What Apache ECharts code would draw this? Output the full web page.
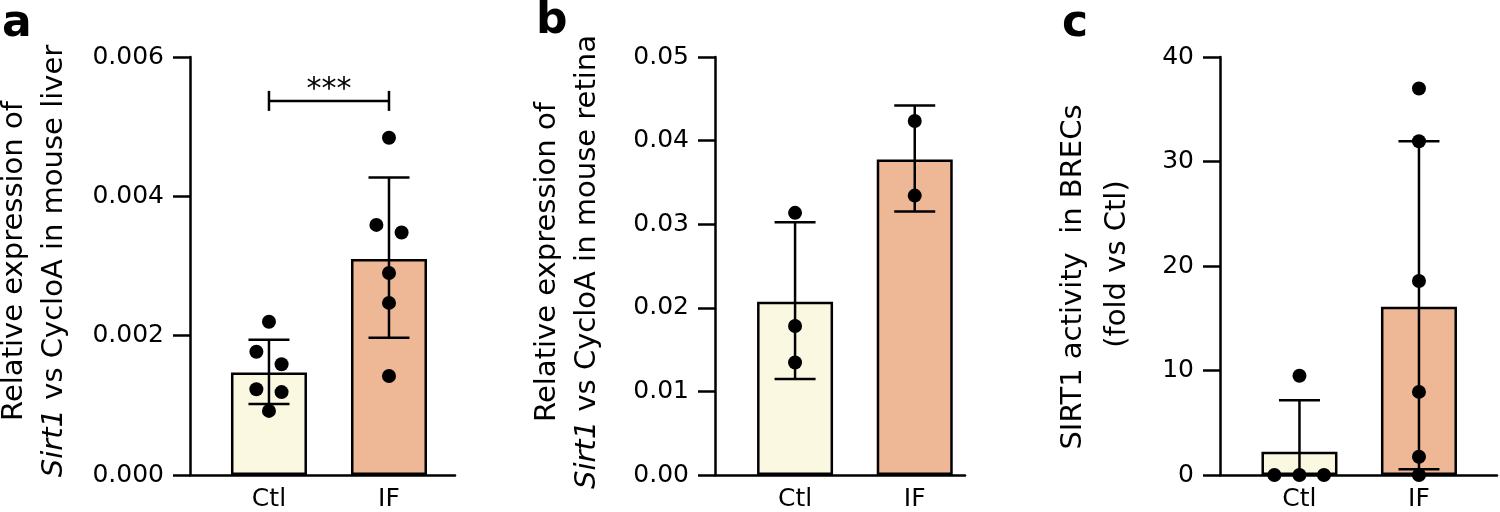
<!DOCTYPE html>
<html><head><meta charset="utf-8">
<script src="https://cdn.jsdelivr.net/npm/echarts@6/dist/echarts.min.js"></script>
<style>html,body{margin:0;padding:0;background:#fff}#c{width:1500px;height:512px}</style>
</head><body><div id="c"></div>
<script>
// ---------- data ----------
const categories = ['Ctl', 'IF'];
const barColors = ['#FBF8E2', '#EEB896'];

// Panel a: Sirt1 vs CycloA in mouse liver
const aMeans = [0.00147, 0.00310];
const aErrLow = [0.00102, 0.00197];
const aErrHigh = [0.00194, 0.00427];
const aCtlPoints = [0.00220, 0.00177, 0.00159, 0.00123, 0.00119, 0.00092];
const aCtlJitter = [0, -0.105, 0.105, -0.105, 0.105, 0];
const aIFPoints = [0.00484, 0.00359, 0.00348, 0.00290, 0.00247, 0.00142];
const aIFJitter = [0, -0.105, 0.105, 0, 0, 0];
const aSigBracket = [[0, 1, 0.00537]];
const aSigLabel = '***';
const aTicks = { max: 0.006, interval: 0.002, decimals: 3 };

// Panel b: Sirt1 vs CycloA in mouse retina
const bMeans = [0.02071, 0.03774];
const bErrLow = [0.01148, 0.03151];
const bErrHigh = [0.03024, 0.04421];
const bCtlPoints = [0.03136, 0.01782, 0.01345];
const bCtlJitter = [0, 0, 0];
const bIFPoints = [0.04235, 0.03342];
const bIFJitter = [0, 0];
const bTicks = { max: 0.05, interval: 0.01, decimals: 2 };

// Panel c: SIRT1 activity in BRECs
const cMeans = [2.23, 16.11];
const cErrLow = [-2.65, 0.54];
const cErrHigh = [7.15, 31.94];
const cCtlPoints = [9.50, 0, 0, 0];
const cCtlJitter = [0, -0.21, 0, 0.205];
const cIFPoints = [36.99, 31.94, 18.56, 7.95, 1.75, 0];
const cIFJitter = [0, 0, 0, 0, 0, 0];
const cTicks = { max: 40, interval: 10, decimals: 0 };

// ---------- helpers ----------
const FONT = 'DejaVu Sans';
const LW = 2.5;
const grids = [
  { left: 190, top: 57, width: 265, height: 419 },
  { left: 715, top: 57, width: 250, height: 419 },
  { left: 1220, top: 57, width: 277, height: 419 }
];
const xRanges = [[-0.658, 1.55], [-0.669, 1.42], [-0.665, 1.653]];

function yAxisCfg(gi, t) {
  return {
    gridIndex: gi, type: 'value', min: 0, max: t.max, interval: t.interval,
    axisLine: { show: true, onZero: false, lineStyle: { color: '#000', width: LW } },
    axisTick: { show: true, length: 17, lineStyle: { color: '#000', width: LW } },
    axisLabel: { margin: 26, color: '#000', fontSize: 25, fontFamily: FONT,
      formatter: v => v.toFixed(t.decimals) },
    splitLine: { show: false }
  };
}
function xAxisCfg(gi) {
  return {
    gridIndex: gi, type: 'value', min: xRanges[gi][0], max: xRanges[gi][1],
    axisLine: { show: true, onZero: false, lineStyle: { color: '#000', width: LW } },
    axisTick: { show: false },
    splitLine: { show: false },
    axisLabel: {
      show: true, customValues: [0, 1], margin: 12, color: '#000', fontSize: 25, fontFamily: FONT,
      formatter: v => (Number.isInteger(v) && categories[v] !== undefined) ? categories[v] : ''
    }
  };
}
function barSeries(gi, means) {
  return {
    type: 'bar', xAxisIndex: gi, yAxisIndex: gi, barWidth: 76, silent: true, z: 2,
    itemStyle: { borderColor: '#000', borderWidth: LW },
    data: means.map((m, i) => ({ value: [i, m], itemStyle: { color: barColors[i] } }))
  };
}
function errorSeries(gi, lows, highs) {
  return {
    type: 'custom', xAxisIndex: gi, yAxisIndex: gi, z: 3, silent: true,
    encode: { x: 0, y: [1, 2] },
    data: categories.map((c, i) => [i, lows[i], highs[i]]),
    renderItem: (params, api) => {
      const x = api.value(0);
      const top = api.coord([x, api.value(2)]);
      const bot = api.coord([x, api.value(1)]);
      const cs = params.coordSys;
      const yBottom = cs.y + cs.height;
      const clipped = bot[1] > yBottom;
      const by = clipped ? yBottom : bot[1];
      const half = 20.5;
      const style = { stroke: '#000', lineWidth: LW };
      const children = [
        { type: 'line', shape: { x1: top[0], y1: top[1], x2: top[0], y2: by }, style },
        { type: 'line', shape: { x1: top[0] - half, y1: top[1], x2: top[0] + half, y2: top[1] }, style }
      ];
      if (!clipped) children.push({ type: 'line', shape: { x1: top[0] - half, y1: by, x2: top[0] + half, y2: by }, style });
      return { type: 'group', children };
    }
  };
}
function dotSeries(gi, catIdx, vals, jit) {
  return {
    type: 'scatter', xAxisIndex: gi, yAxisIndex: gi, z: 4, silent: true, clip: false,
    symbol: 'circle', symbolSize: 14, itemStyle: { color: '#000', opacity: 1 },
    data: vals.map((v, i) => [catIdx + jit[i], v])
  };
}
function sigSeries(gi, bracket, label) {
  return {
    type: 'custom', xAxisIndex: gi, yAxisIndex: gi, z: 5, silent: true,
    encode: { x: [0, 1], y: 2 },
    data: bracket,
    renderItem: (params, api) => {
      const p1 = api.coord([api.value(0), api.value(2)]);
      const p2 = api.coord([api.value(1), api.value(2)]);
      const style = { stroke: '#000', lineWidth: LW };
      return { type: 'group', children: [
        { type: 'line', shape: { x1: p1[0], y1: p1[1], x2: p2[0], y2: p2[1] }, style },
        { type: 'line', shape: { x1: p1[0], y1: p1[1] - 10, x2: p1[0], y2: p1[1] + 10 }, style },
        { type: 'line', shape: { x1: p2[0], y1: p2[1] - 10, x2: p2[0], y2: p2[1] + 10 }, style },
        { type: 'text', x: (p1[0] + p2[0]) / 2, y: p1[1] - 11,
          style: { text: label, fontSize: 30, fontFamily: FONT, fill: '#000', align: 'center', verticalAlign: 'middle' } }
      ] };
    }
  };
}
function rotText(x, y, text, rich) {
  return {
    type: 'text', x, y, rotation: Math.PI / 2, silent: true,
    style: { text, fontSize: 29, fontFamily: FONT, fill: '#000', align: 'center', verticalAlign: 'middle',
      rich: rich || {} }
  };
}
function letter(x, y, t) {
  return { type: 'text', x, y, silent: true,
    style: { text: t, fontSize: 44, fontWeight: 'bold', fontFamily: FONT, fill: '#000', align: 'left', verticalAlign: 'middle' } };
}
const italicRich = { i: { fontStyle: 'italic', fontSize: 29, fontFamily: FONT, fill: '#000' },
                     n: { fontSize: 29, fontFamily: FONT, fill: '#000' } };

const chart = echarts.init(document.getElementById('c'), null, { renderer: 'canvas' });
chart.setOption({
  animation: false,
  backgroundColor: '#fff',
  grid: grids,
  xAxis: [xAxisCfg(0), xAxisCfg(1), xAxisCfg(2)],
  yAxis: [yAxisCfg(0, aTicks), yAxisCfg(1, bTicks), yAxisCfg(2, cTicks)],
  series: [
    barSeries(0, aMeans), errorSeries(0, aErrLow, aErrHigh),
    dotSeries(0, 0, aCtlPoints, aCtlJitter), dotSeries(0, 1, aIFPoints, aIFJitter),
    sigSeries(0, aSigBracket, aSigLabel),
    barSeries(1, bMeans), errorSeries(1, bErrLow, bErrHigh),
    dotSeries(1, 0, bCtlPoints, bCtlJitter), dotSeries(1, 1, bIFPoints, bIFJitter),
    barSeries(2, cMeans), errorSeries(2, cErrLow, cErrHigh),
    dotSeries(2, 0, cCtlPoints, cCtlJitter), dotSeries(2, 1, cIFPoints, cIFJitter)
  ],
  graphic: [
    letter(2, 25, 'a'), letter(536, 22, 'b'), letter(1062, 25, 'c'),
    rotText(14, 261, 'Relative expression of'),
    rotText(54, 261, '{i|Sirt1}{n| vs CycloA in mouse liver}', italicRich),
    rotText(547, 262, 'Relative expression of'),
    rotText(587, 262, '{i|Sirt1}{n| vs CycloA in mouse retina}', italicRich),
    rotText(1073, 277, 'SIRT1 activity  in BRECs'),
    rotText(1117, 264, '(fold vs Ctl)')
  ]
});
</script></body></html>
